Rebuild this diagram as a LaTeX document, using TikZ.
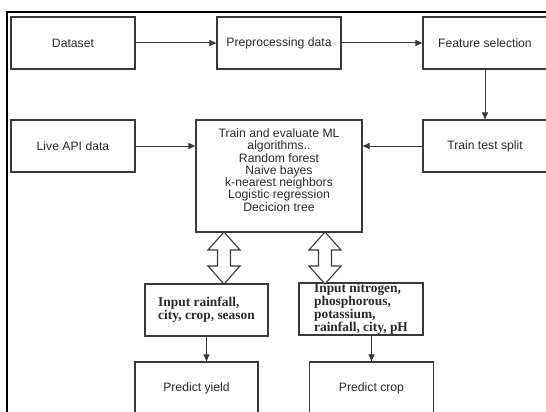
\documentclass[tikz,border=0pt]{standalone}
\usepackage{fontspec}
\setmainfont{Liberation Sans}
\newfontfamily\inputfont{Liberation Serif}
\usetikzlibrary{arrows.meta}
\definecolor{linegray}{HTML}{3A3A3A}
\definecolor{textgray}{HTML}{2A2A2A}
\begin{document}
\begin{tikzpicture}[x=1pt, y=-1pt,
  box/.style={draw=linegray, line width=1.2pt, minimum width=124pt, minimum height=52pt,
    inner sep=0pt, text=textgray, font=\fontsize{12.2}{12.3}\selectfont},
  inbox/.style={box, minimum width=123pt, align=left,
    font=\inputfont\bfseries\fontsize{13.4}{13}\selectfont},
  arr/.style={draw=linegray, line width=1pt, -{Triangle[length=7pt,width=6pt]}},
  hollow/.style={draw=linegray, line width=1.1pt, fill=white, line join=miter}]
\useasboundingbox (0,0) rectangle (546,412);
\clip (0,0) rectangle (546,412);
\draw[line width=2.4pt] (7,12) rectangle (552,430); % cadre
%
\node[box] (data) at (73,43) {Dataset};
\node[box] (prep) at (279,43) {Preprocessing data};
\node[box] (feat) at (485,43) {Feature selection};
\node[box] (api) at (73,146) {Live API data};
\node[box] (split) at (485,146) {Train test split};
\node[box, minimum width=166pt, minimum height=112pt] (train) at (279,176) {};
\node[align=center, text=textgray, font=\fontsize{12.2}{12.3}\selectfont] (algos) at (279,170)
  {Train and evaluate ML\\algorithms..\\Random forest\\Naive bayes\\k-nearest neighbors\\Logistic regression\\Decicion tree};
%
\node[inbox] (inrain) at (206.5,310) {Input rainfall,\\city, crop, season};
\node[inbox, minimum width=124pt] (innit) at (361,309) {Input nitrogen,\\phosphorous,\\potassium,\\rainfall, city, pH};
\node[box, minimum width=123pt] (yield) at (196.5,388) {Predict yield};
\node[box] (crop) at (371.5,388) {Predict crop};
%
\draw[arr] (data) -- (prep);
\draw[arr] (prep) -- (feat);
\draw[arr] (feat) -- (split);
\draw[arr] (split.west) -- (split.west -| train.east);
\draw[arr] (api.east) -- (api.east -| train.west);
\draw[arr] (inrain.south) -- (inrain.south |- yield.north);
\draw[arr] (crop.north |- innit.south) -- (crop.north);
%
\foreach \c in {224,325}
  \draw[hollow] (\c,232) -- ++(16,18) -- ++(-9.5,0) -- ++(0,16) -- ++(9.5,0) -- ++(-16,18)
    -- ++(-16,-18) -- ++(9.5,0) -- ++(0,-16) -- ++(-9.5,0) -- cycle; % doubles fleches
\end{tikzpicture}
\end{document}
